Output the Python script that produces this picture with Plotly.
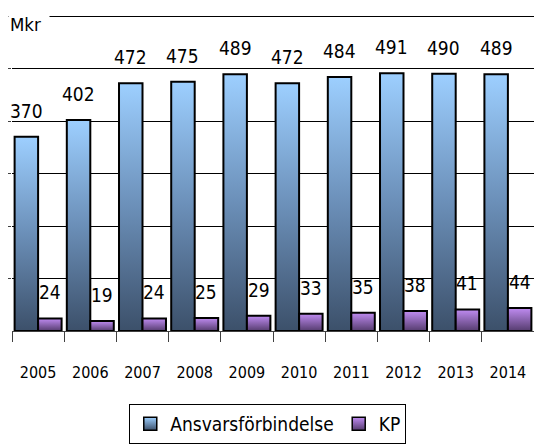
import plotly.graph_objects as go

years = ['2005', '2006', '2007', '2008', '2009', '2010', '2011', '2012', '2013', '2014']
ansvar = [370, 402, 472, 475, 489, 472, 484, 491, 490, 489]
kp = [24, 19, 24, 25, 29, 33, 35, 38, 41, 44]

FONT = 'Liberation Sans Narrow, Arial Narrow, DejaVu Sans Condensed, sans-serif'
series = [
    ('Ansvarsförbindelse', ansvar, -0.45, '#3c506a', '#9dcfff',
     [[0, '#3c506a'], [0.5, '#6b8fb8'], [1, '#9dcfff']]),
    ('KP', kp, 0.0, '#553c6e', '#c08cf2', [[0, '#553c6e'], [1, '#c08cf2']]),
]
W = 0.45

fig = go.Figure()
annots = []
for name, vals, off, dark, light, cs in series:
    for i, v in enumerate(vals):
        x0 = i + off
        fig.add_trace(go.Scatter(
            x=[x0, x0, x0 + W, x0 + W, x0], y=[0, v, v, 0, 0],
            mode='lines', fill='toself',
            fillgradient=dict(type='vertical', colorscale=cs),
            line=dict(color='black', width=2),
            showlegend=False, hoverinfo='skip'))
        annots.append(dict(x=x0 + W / 2, y=v, xref='x', yref='y', text=str(v),
                           showarrow=False, yanchor='bottom', yshift=13,
                           font=dict(size=19, color='black', family=FONT)))
    # legend entry
    fig.add_trace(go.Scatter(
        x=[None], y=[None], mode='markers', name=name,
        marker=dict(symbol='square', size=13, color=light,
                    gradient=dict(type='vertical', color=dark),
                    line=dict(color='black', width=1.5))))

annots.append(dict(x=0, y=600, xref='paper', yref='y', text='Mkr', showarrow=False,
                   xanchor='left', yanchor='top', xshift=-4, yshift=4, width=38,
                   align='left', bgcolor='white',
                   font=dict(size=18.5, color='black', family=FONT)))

fig.update_layout(
    width=534, height=446,
    margin=dict(l=12, r=0, t=15, b=115),
    paper_bgcolor='white', plot_bgcolor='white',
    font=dict(family=FONT, size=18, color='black'),
    annotations=annots,
    showlegend=True,
    legend=dict(orientation='h', x=0.49, xanchor='center', y=-0.294, yanchor='middle',
                bordercolor='black', borderwidth=1, font=dict(size=19),
                itemwidth=30, tracegroupgap=0),
)
fig.update_xaxes(
    range=[-0.5, 9.5], tickmode='array', tickvals=list(range(len(years))), ticktext=years,
    ticks='outside', ticklen=27, tickcolor='rgba(0,0,0,0)', tickfont=dict(size=16),
    minor=dict(tickmode='array', tickvals=[i - 0.5 for i in range(len(years) + 1)],
               ticks='outside', ticklen=10, tickcolor='#404040', showgrid=False),
    showline=True, linecolor='#404040', linewidth=1, showgrid=False, zeroline=False,
    fixedrange=True)
fig.update_yaxes(
    range=[0, 602], tickmode='array', tickvals=[100, 200, 300, 400, 500, 600],
    showgrid=True, gridcolor='black', gridwidth=1,
    showticklabels=False, ticks='outside', ticklen=3, tickcolor='#404040',
    zeroline=False, showline=False, fixedrange=True)

fig.write_html("out.html", config={'displayModeBar': False},
               post_script="document.body.style.margin='0';")
